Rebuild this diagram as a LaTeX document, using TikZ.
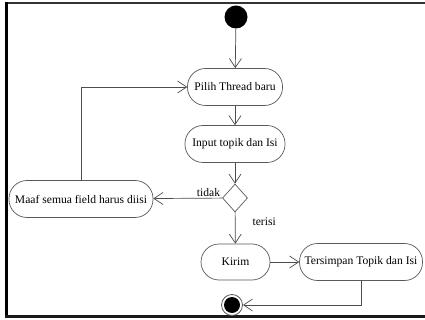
\documentclass[tikz,border=0pt]{standalone}
\usepackage{fontspec}
\setmainfont{Liberation Serif}
\usetikzlibrary{arrows.meta,shapes.geometric}
\begin{document}
\begin{tikzpicture}[x=1pt,y=-1pt,
  act/.style={draw=black!65, rounded corners=18pt, minimum height=37pt, font=\fontsize{11.6}{13}\selectfont, inner sep=2pt, line width=0.7pt},
  flow/.style={draw=black!70, line width=0.7pt, -{Straight Barb[length=9pt,width=12pt]}},
  lbl/.style={font=\fontsize{11.6}{13}\selectfont, inner sep=1pt}]
\useasboundingbox (0,0) rectangle (425,320);
\draw[line width=1.5pt, black!80] (425,3) -- (6.5,3);
\draw[line width=3pt] (6.5,2.5) -- (6.5,317);
\draw[line width=2.5pt, black!90] (5,316.5) -- (425,316.5);
\node[circle, fill=black, minimum size=23pt, inner sep=0] (start) at (236,17) {};
\node[act, minimum width=95pt] (pilih) at (235,87) {Pilih Thread baru};
\node[act, minimum width=100pt] (input) at (235,144) {Input topik dan Isi};
\node[diamond, draw=black!65, line width=0.7pt, minimum width=25pt, minimum height=28pt, inner sep=0, shape aspect=0.9] (dec) at (235,198) {};
\node[act, minimum width=144pt] (maaf) at (81,199) {Maaf semua field harus diisi};
\node[act, minimum width=69pt, minimum height=36pt] (kirim) at (235.5,262) {Kirim};
\node[act, minimum width=123pt] (simpan) at (361,262) {Tersimpan Topik dan Isi};
\node[circle, draw=black!65, line width=0.8pt, minimum size=21pt, inner sep=0] (end) at (232,305) {};
\fill (end.center) circle (8pt);
\draw[flow] (start) -- (pilih);
\draw[flow] (pilih) -- (input);
\draw[flow] (input) -- (dec);
\draw[flow] (dec) -- node[lbl, above, pos=0.2] (tidak) {tidak} (maaf);
\draw[flow] (maaf.north) |- (pilih.west);
\draw[flow] (dec) -- node[lbl, anchor=west, pos=0.3, xshift=16pt] (terisi) {terisi} (kirim);
\draw[flow] (kirim) -- (simpan);
\draw[flow] (simpan.south) |- (end);
\end{tikzpicture}
\end{document}
